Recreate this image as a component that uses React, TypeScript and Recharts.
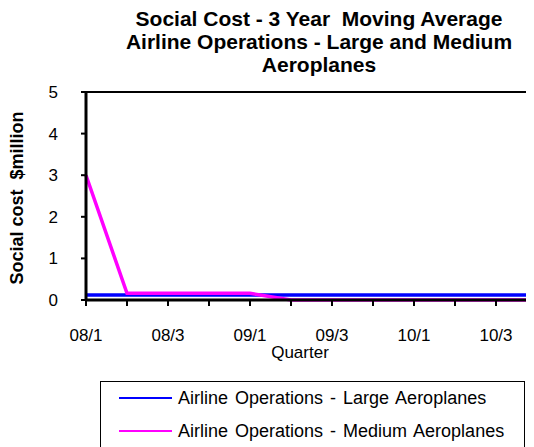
import React from 'react'
import { Line, LineChart, ReferenceLine, XAxis, YAxis } from 'recharts'

const quarters = ['08/1', '08/2', '08/3', '08/4', '09/1', '09/2', '09/3', '09/4', '10/1', '10/2', '10/3', '10/4']
const largeCost = [0.12, 0.12, 0.12, 0.12, 0.12, 0.12, 0.12, 0.12, 0.12, 0.12, 0.12, 0.12]
const mediumCost = [3.0, 0.16, 0.16, 0.16, 0.16, 0, 0, 0, 0, 0, 0, 0]
const yTicks = [0, 1, 2, 3, 4, 5]
const titleLines = ['Social Cost - 3 Year  Moving Average', 'Airline Operations - Large and Medium', 'Aeroplanes']
const seriesNames = ['Airline Operations - Large Aeroplanes', 'Airline Operations - Medium Aeroplanes']

const font = "'Liberation Sans', Arial, sans-serif"
const colors = ['#0000ff', '#ff00ff']

const data = quarters.map((q, i) => ({ quarter: q, large: largeCost[i], medium: mediumCost[i] }))

const App = () => {
  return (
    <div style={{ position: 'relative', width: 526, height: 439, overflow: 'hidden', fontFamily: font }}>
      <div
        style={{
          position: 'absolute', left: 0, top: -1, width: 622, textAlign: 'center',
          fontWeight: 'bold', fontSize: 21, lineHeight: '23px', color: '#000',
        }}
      >
        {titleLines.map((t) => (
          <div key={t} style={{ whiteSpace: 'pre' }}>{t}</div>
        ))}
      </div>

      <div style={{ position: 'absolute', left: 0, top: 0 }}>
        {/* last quarter sits just past the right edge, like the cropped original */}
        <LineChart width={539} height={439} data={data} margin={{ top: 84, right: 10, bottom: 87, left: 0 }}>
          <XAxis
            dataKey="quarter"
            interval={0}
            height={60}
            tickSize={6}
            tickMargin={23}
            tickFormatter={(v: string, i: number) => (i % 2 === 0 ? v : '')}
            tick={{ fill: '#000', fontSize: 17, fontFamily: font }}
            axisLine={{ stroke: '#000', strokeWidth: 3 }}
            tickLine={{ stroke: '#000', strokeWidth: 2 }}
            label={{
              content: (p: any) => (
                <text x={p.viewBox.x + 214} y={p.viewBox.y + 52} textAnchor="middle" dominantBaseline="central"
                  fontSize={17} fontFamily={font} fill="#000">Quarter</text>
              ),
            }}
          />
          <YAxis
            domain={[0, 5]}
            ticks={yTicks}
            width={78}
            tickSize={5}
            tickMargin={23}
            tick={{ fill: '#000', fontSize: 17, fontFamily: font }}
            axisLine={{ stroke: '#000', strokeWidth: 3 }}
            tickLine={{ stroke: '#000', strokeWidth: 2 }}
            label={{
              content: (p: any) => {
                const cx = p.viewBox.x + 9
                const cy = p.viewBox.y + p.viewBox.height / 2 + 2
                return (
                  <text x={cx} y={cy} transform={`rotate(-90, ${cx}, ${cy})`} textAnchor="middle"
                    dominantBaseline="central" fontSize={18} fontWeight="bold" fontFamily={font} fill="#000"
                    style={{ whiteSpace: 'pre' }}>
                    Social cost  $million
                  </text>
                )
              },
            }}
          />
          <ReferenceLine y={5} stroke="#000" strokeWidth={2} />
          <Line dataKey="large" name={seriesNames[0]} stroke={colors[0]} strokeWidth={3.5} dot={false} isAnimationActive={false} />
          <Line dataKey="medium" name={seriesNames[1]} stroke={colors[1]} strokeWidth={3.5} dot={false} isAnimationActive={false} />
        </LineChart>
      </div>

      <div
        style={{
          position: 'absolute', left: 92, top: 373, width: 425, height: 100,
          border: '1.5px solid #000', boxSizing: 'border-box', background: '#fff',
        }}
      >
        {seriesNames.map((name, i) => (
          <div key={name} style={{ position: 'absolute', left: 18, top: 5 + i * 33, height: 22, display: 'flex', alignItems: 'center', whiteSpace: 'nowrap' }}>
            <span style={{ display: 'inline-block', width: 53, height: 2, background: colors[i], marginRight: 6 }} />
            <span style={{ fontSize: 18, wordSpacing: 2, color: '#000' }}>{name}</span>
          </div>
        ))}
      </div>
    </div>
  )
}

export default App
